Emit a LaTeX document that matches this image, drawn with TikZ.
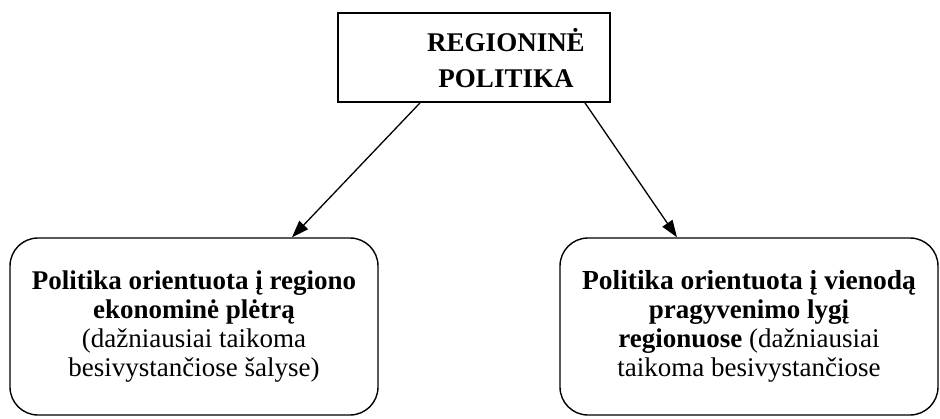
\documentclass[tikz,border=0pt]{standalone}
\usepackage{fontspec}
\setmainfont{Liberation Serif}
\usetikzlibrary{arrows.meta}
\begin{document}
\begin{tikzpicture}[x=1pt,y=-1pt,
  topbox/.style={draw,line width=1.8pt,minimum width=272pt,minimum height=89pt,inner sep=0pt},
  toptext/.style={align=center,inner sep=0pt,font=\fontsize{27}{36}\selectfont\bfseries},
  subbox/.style={draw,line width=1.4pt,rounded corners=28pt,minimum height=177pt,align=center,inner sep=0pt,
    font=\fontsize{27}{28.8}\selectfont},
  arr/.style={line width=1.3pt,-{Triangle[length=17pt,width=12pt]}}]
\useasboundingbox (0,0) rectangle (940,418);
\node[topbox] (top) at (474,57.5) {};
\node[toptext] (toplabel) at (506,58.5) {REGIONINĖ\\POLITIKA};
\node[subbox,minimum width=368pt] (left) at (194,326.5)
  {\textbf{Politika orientuota į regiono}\\\textbf{ekonominė plėtrą}\\(dažniausiai taikoma\\besivystančiose šalyse)};
\node[subbox,minimum width=378pt] (right) at (749,326.5)
  {\fontsize{27.5}{29.4}\selectfont\textbf{Politika orientuota į vienodą}\\\textbf{pragyvenimo lygį}\\\textbf{regionuose} (dažniausiai\\taikoma besivystančiose};
\draw[arr] ([xshift=-54pt]top.south) -- ([xshift=98pt]left.north);
\draw[arr] ([xshift=111pt]top.south) -- ([xshift=-72pt]right.north);
\end{tikzpicture}
\end{document}
